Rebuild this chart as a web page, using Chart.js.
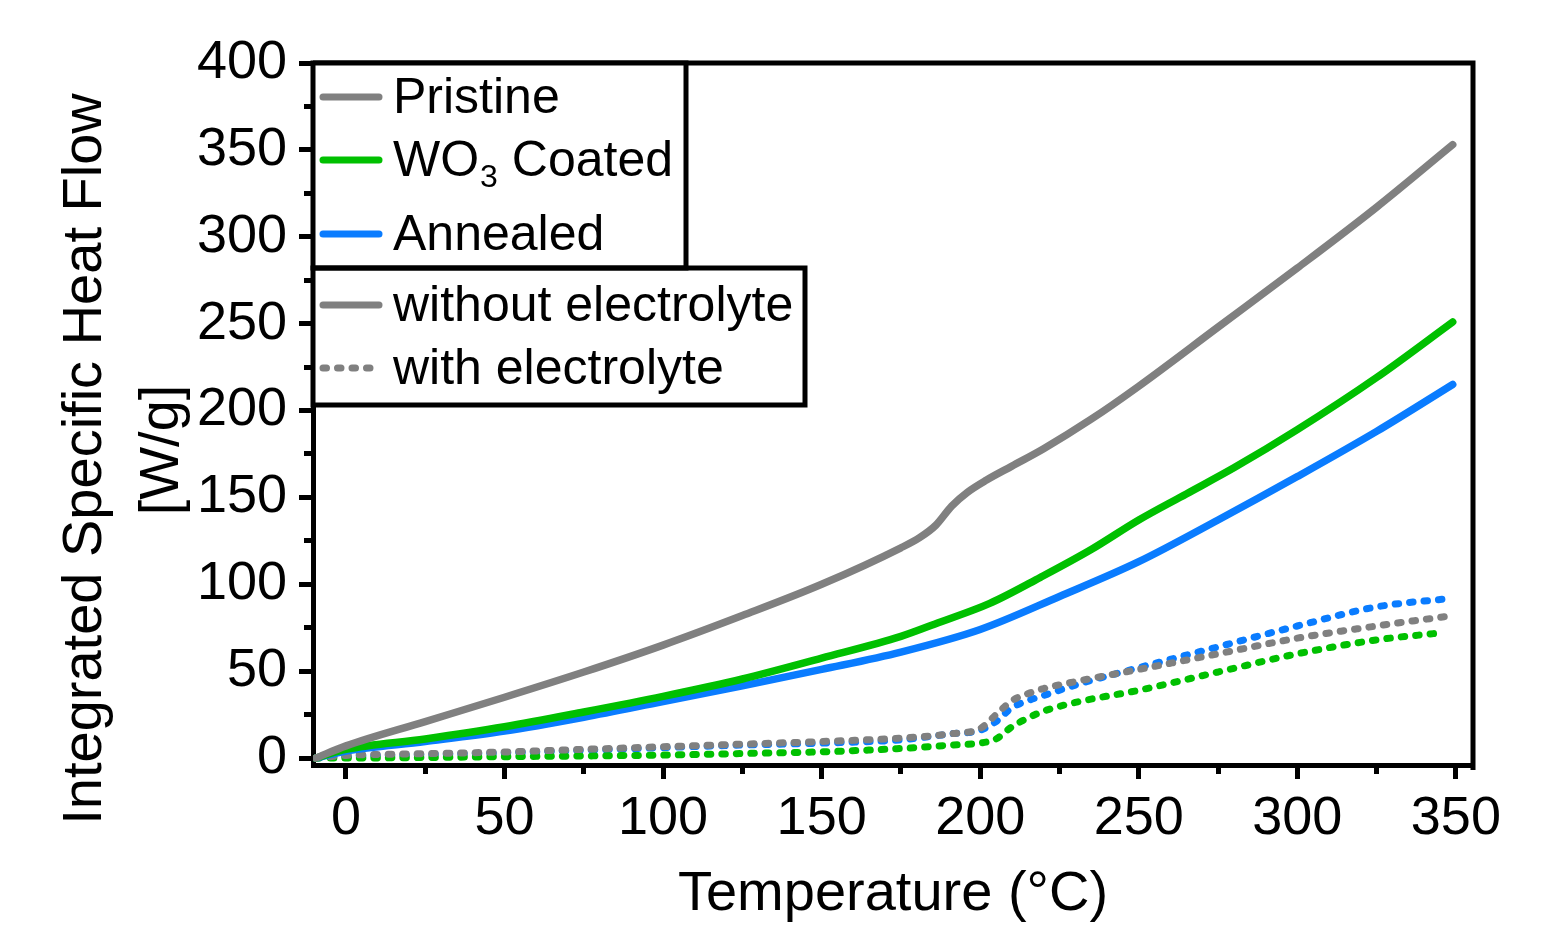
<!DOCTYPE html>
<html lang="en">
<head>
<meta charset="UTF-8" />
<title>Integrated Specific Heat Flow</title>
<script src="https://cdn.jsdelivr.net/npm/chart.js"></script>
<style>html,body{margin:0;padding:0;background:#fff;}canvas{display:block;}</style>
</head>
<body>
<canvas id="chart" width="1542" height="928"></canvas>
<script>
// solid lines: without electrolyte
const tempPristine = [-9.5, 0, 25, 50, 75, 100, 125, 150, 175, 181, 186, 191, 196, 202, 210, 220, 235, 250, 275, 300, 325, 349];
const pristine     = [0, 7, 21, 35, 49.5, 65, 82, 100, 121, 127, 134, 145, 153, 160, 168, 178, 195, 214, 248, 282, 317, 353];
const tempWO3      = [-9.5, 0, 25, 50, 75, 100, 125, 150, 175, 187, 203, 219, 235, 250, 265, 280, 300, 325, 349];
const wo3          = [0, 5, 11, 18, 26.5, 35.5, 45.5, 57.5, 70, 78, 89, 104, 120, 137, 152, 167, 189, 219, 251];
const tempAnnealed = [-9.5, 0, 25, 50, 75, 100, 125, 150, 175, 200, 225, 250, 275, 300, 325, 349];
const annealed     = [0, 4, 9.5, 15.5, 23.5, 32.5, 41.5, 51, 61, 74, 93, 113, 137, 162, 188, 215];

// dotted lines: with electrolyte
const tempDashed    = [-9.5, 0, 25, 50, 75, 100, 125, 150, 175, 191, 200, 205, 210, 215, 220, 230, 250, 275, 300, 325, 349];
const tempDashedWO3 = [-9.5, 0, 25, 50, 75, 100, 125, 150, 175, 191, 200, 205, 210, 215, 220, 230, 250, 275, 300, 325, 345];
const pristineEl = [0, 1.5, 2.5, 3.5, 5, 6.5, 8, 9.5, 11.5, 14, 17, 25, 33, 37, 40, 44, 51, 60, 69, 76, 82];
const wo3El      = [0, 0, 0.3, 0.8, 1.2, 1.7, 2.6, 3.6, 5.5, 7.5, 8.6, 11, 18, 23, 27, 32, 39, 49.5, 60, 68, 72];
const annealedEl = [0, 1, 2, 3, 4.5, 6, 7.5, 8.6, 10.5, 14, 16, 21, 29, 33, 36, 42, 52, 64, 76, 87, 92];

const xTicks = [0, 50, 100, 150, 200, 250, 300, 350];
const xMinor = [25, 75, 125, 175, 225, 275, 325];
const yTicks = [0, 50, 100, 150, 200, 250, 300, 350, 400];
const yMinor = [25, 75, 125, 175, 225, 275, 325, 375];

const GRAY = '#808080', GREEN = '#00c000', BLUE = '#0a7cff';
const FONT = "'Liberation Sans', Arial, sans-serif";
const DOTS = [3.5, 11];

const pts = (xs, ys) => xs.map((x, i) => ({x, y: ys[i]}));
const setTicks = vals => s => { s.ticks = vals.map(v => ({value: v})); };

function solid(label, data, color) {
  return {label, data, borderColor: color, borderWidth: 7.5, pointRadius: 0,
    cubicInterpolationMode: 'monotone', borderCapStyle: 'round', borderJoinStyle: 'round'};
}
function dotted(label, data, color) {
  return Object.assign(solid(label, data, color), {borderWidth: 7, borderDash: DOTS});
}

// frame, legend boxes and y title
const extras = {
  id: 'extras',
  afterDraw(chart) {
    const {ctx, chartArea: a} = chart;
    ctx.save();
    ctx.strokeStyle = '#000';
    ctx.lineWidth = 5;
    ctx.beginPath();
    ctx.moveTo(a.left, a.top); ctx.lineTo(a.right, a.top); ctx.lineTo(a.right, a.bottom + 5);
    ctx.stroke();

    const x0 = a.left, y0 = a.top;
    const box1 = {w: 373, h: 205}, box2 = {w: 492, h: 137};
    ctx.fillStyle = '#fff';
    ctx.fillRect(x0, y0, box1.w, box1.h);
    ctx.fillRect(x0, y0 + box1.h, box2.w, box2.h);
    ctx.strokeRect(x0, y0, box1.w, box1.h);
    ctx.strokeRect(x0, y0 + box1.h, box2.w, box2.h);

    const sample = (y, color, dash) => {
      ctx.save();
      ctx.strokeStyle = color; ctx.lineWidth = 7; ctx.lineCap = 'round';
      ctx.setLineDash(dash ? DOTS : []);
      ctx.beginPath(); ctx.moveTo(x0 + 10, y); ctx.lineTo(x0 + 66, y); ctx.stroke();
      ctx.restore();
    };
    ctx.fillStyle = '#000';
    ctx.textBaseline = 'middle';
    ctx.textAlign = 'left';
    const big = '50px ' + FONT, small = '32px ' + FONT;
    const tx = x0 + 80;
    const rows = [97, 160, 234, 305, 368].map(v => v - 63 + y0);

    sample(rows[0], GRAY); ctx.font = big; ctx.fillText('Pristine', tx, rows[0] + 2);
    sample(rows[1], GREEN);
    ctx.font = big; ctx.fillText('WO', tx, rows[1] + 2);
    let w = ctx.measureText('WO').width;
    ctx.font = small; ctx.fillText('3', tx + w + 1, rows[1] + 18);
    w += ctx.measureText('3').width + 1;
    ctx.font = big; ctx.fillText(' Coated', tx + w, rows[1] + 2);
    sample(rows[2], BLUE); ctx.fillText('Annealed', tx, rows[2] + 2);
    sample(rows[3], GRAY); ctx.fillText('without electrolyte', tx, rows[3] + 2);
    sample(rows[4], GRAY, true); ctx.fillText('with electrolyte', tx, rows[4] + 2);

    // y axis title (two lines, wider than the plot height)
    ctx.textAlign = 'center';
    ctx.font = '56px ' + FONT;
    ctx.save(); ctx.translate(86, 459); ctx.rotate(-Math.PI / 2);
    ctx.fillText('Integrated Specific Heat Flow', 0, 0); ctx.restore();
    ctx.save(); ctx.translate(163, 450); ctx.rotate(-Math.PI / 2);
    ctx.fillText('[W/g]', 0, 0); ctx.restore();
    ctx.restore();
  }
};

const tickFont = {family: FONT, size: 54};

new Chart(document.getElementById('chart'), {
  type: 'line',
  data: {
    datasets: [
      solid('Pristine', pts(tempPristine, pristine), GRAY),
      solid('WO3 Coated', pts(tempWO3, wo3), GREEN),
      solid('Annealed', pts(tempAnnealed, annealed), BLUE),
      dotted('Pristine with electrolyte', pts(tempDashed, pristineEl), GRAY),
      dotted('WO3 Coated with electrolyte', pts(tempDashedWO3, wo3El), GREEN),
      dotted('Annealed with electrolyte', pts(tempDashed, annealedEl), BLUE)
    ]
  },
  options: {
    responsive: false,
    animation: false,
    layout: {padding: {left: 0, top: 63, right: 69, bottom: 0}},
    plugins: {legend: {display: false}, tooltip: {enabled: false}},
    scales: {
      x: {
        type: 'linear', position: 'bottom', min: -10.4, max: 355.4, weight: 1,
        afterBuildTicks: setTicks(xTicks),
        afterFit: s => { s.height = 163; },
        border: {display: true, color: '#000', width: 5},
        grid: {drawOnChartArea: false, tickLength: 14, tickWidth: 5, tickColor: '#000'},
        ticks: {color: '#000', font: tickFont, padding: 8, maxRotation: 0, autoSkip: false},
        title: {display: true, text: 'Temperature (°C)', color: '#000',
          font: {family: FONT, size: 56}, padding: {top: 0, bottom: 0}}
      },
      xMinor: {
        type: 'linear', position: 'bottom', min: -10.4, max: 355.4, weight: 0,
        afterBuildTicks: setTicks(xMinor),
        afterFit: s => { s.height = 0; },
        border: {display: false},
        grid: {drawOnChartArea: false, tickLength: 9, tickWidth: 5, tickColor: '#000'},
        ticks: {display: false}
      },
      y: {
        type: 'linear', position: 'left', min: -4, max: 400, weight: 1,
        afterBuildTicks: setTicks(yTicks),
        afterFit: s => { s.width = 313; },
        border: {display: true, color: '#000', width: 5},
        grid: {drawOnChartArea: false, tickLength: 14, tickWidth: 5, tickColor: '#000'},
        ticks: {color: '#000', font: tickFont, padding: 12, autoSkip: false}
      },
      yMinor: {
        type: 'linear', position: 'left', min: -4, max: 400, weight: 0,
        afterBuildTicks: setTicks(yMinor),
        afterFit: s => { s.width = 0; },
        border: {display: false},
        grid: {drawOnChartArea: false, tickLength: 9, tickWidth: 5, tickColor: '#000'},
        ticks: {display: false}
      }
    }
  },
  plugins: [extras]
});
</script>
</body>
</html>
